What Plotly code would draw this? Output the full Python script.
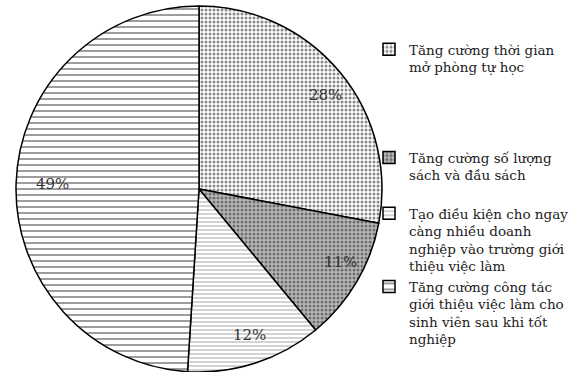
import math
import plotly.graph_objects as go

# Survey answers: suggested improvements (share of respondents, %)
labels = [
    "Tăng cường thời gian<br>mở phòng tự học",
    "Tăng cường số lượng<br>sách và đầu sách",
    "Tạo điều kiện cho ngay<br>càng nhiều doanh<br>nghiệp vào trường giới<br>thiệu việc làm",
    "Tăng cường công tác<br>giới thiệu việc làm cho<br>sinh viên sau khi tốt<br>nghiệp",
]
values = [28, 11, 12, 49]

# Hatch styles for each slice
patterns = [
    dict(shape=".", fgcolor="#8a8a8a", bgcolor="white", size=4, solidity=0.45),
    dict(shape=".", fgcolor="#6e6e6e", bgcolor="#b9b9b9", size=4, solidity=0.45),
    dict(shape="-", fgcolor="#b5b5b5", bgcolor="white", size=4, solidity=0.3),
    dict(shape="-", fgcolor="#5a5a5a", bgcolor="white", size=6, solidity=0.2),
]

# Extra blank lines after each legend entry, for vertical spacing
legend_pad = [4, 1, 0, 0]

SERIF = "DejaVu Serif"
W, H = 574, 372
TOP = 6
plot_h = H - TOP
pie_right = 398 / W

legend_names = [lab + "<br> " * p for lab, p in zip(labels, legend_pad)]

fig = go.Figure(
    go.Pie(
        labels=legend_names,
        values=values,
        sort=False,
        direction="clockwise",
        rotation=0,
        textinfo="none",
        hoverinfo="label+percent",
        marker=dict(
            colors=["white", "#b9b9b9", "white", "white"],
            line=dict(color="black", width=1.5),
            pattern=dict(
                shape=[p["shape"] for p in patterns],
                fgcolor=[p["fgcolor"] for p in patterns],
                bgcolor=[p["bgcolor"] for p in patterns],
                size=[p["size"] for p in patterns],
                solidity=[p["solidity"] for p in patterns],
                fillmode="replace",
            ),
        ),
        domain=dict(x=[0, pie_right], y=[0, 1]),
        showlegend=True,
    )
)

# Percentage labels placed along each slice's mid-angle
total = sum(values)
radius_px = min(pie_right * W, plot_h) / 2
cx_px = pie_right * W / 2
cy_px = plot_h / 2
label_r = 0.9 * radius_px
cum = 0
annotations = []
for v in values:
    mid = (cum + v / 2) / total * 2 * math.pi
    cum += v
    px = cx_px + label_r * math.sin(mid)
    py = cy_px - label_r * math.cos(mid)
    annotations.append(
        dict(
            x=px / W,
            y=1 - py / plot_h,
            xref="paper",
            yref="paper",
            text=f"{v}%",
            showarrow=False,
            font=dict(family=SERIF, size=15, color="#333333"),
        )
    )

fig.update_layout(
    width=W,
    height=H,
    margin=dict(l=0, r=0, t=TOP, b=0),
    paper_bgcolor="white",
    plot_bgcolor="white",
    annotations=annotations,
    font=dict(family=SERIF),
    legend=dict(
        x=369 / W,
        xanchor="left",
        y=1 - (34 - TOP) / plot_h,
        yanchor="top",
        valign="top",
        font=dict(family=SERIF, size=13.5, color="#222222"),
        bgcolor="rgba(0,0,0,0)",
        traceorder="normal",
    ),
)

fig.write_html("out.html")
